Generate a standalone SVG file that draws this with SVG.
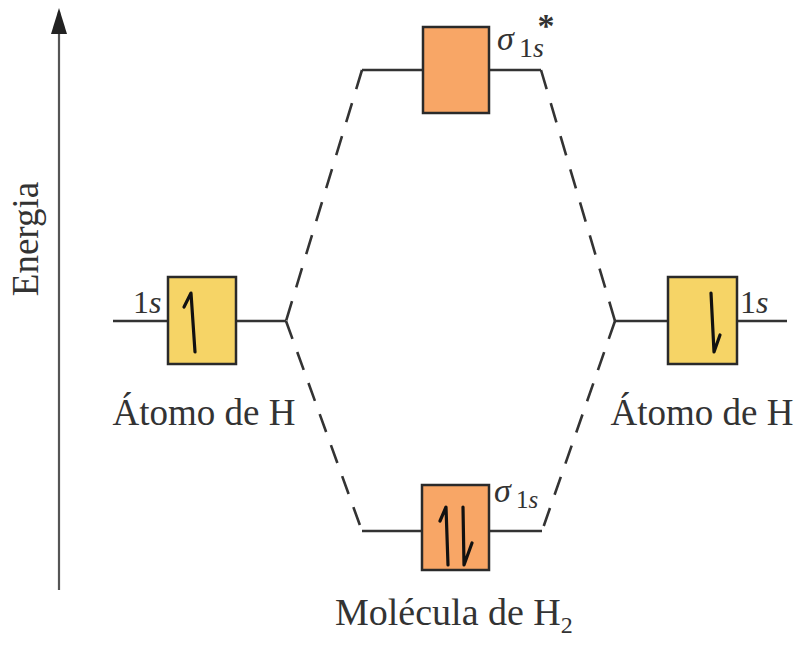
<svg xmlns="http://www.w3.org/2000/svg" width="803" height="646" viewBox="0 0 803 646">
<style>
.t{font-family:"Liberation Serif","Times New Roman",serif;fill:#333}
.ln{stroke:#333;stroke-width:2.6;fill:none}
.ds{stroke:#333;stroke-width:2.6;fill:none;stroke-linecap:butt}
.ao{fill:#F6D466;stroke:#2a2a2a;stroke-width:2.5}
.mo{fill:#F8A666;stroke:#2a2a2a;stroke-width:2.5}
.sp{stroke:#111;stroke-width:3.2;fill:none;stroke-linecap:round;stroke-linejoin:round}
</style>
<g id="axis">
<line x1="59" y1="590" x2="59" y2="12" stroke="#555" stroke-width="2.2"/>
<path d="M59,8 L51,34 L67,34 Z" fill="#222"/>
<text class="t" font-size="37" text-anchor="middle" transform="translate(38,239) rotate(-90)">Energia</text>
</g>
<g id="connectors">
<path class="ds" d="M362,70 L286,321" stroke-dasharray="20 14.5"/>
<path class="ds" d="M286,321 L362,531" stroke-dasharray="19 14"/>
<path class="ds" d="M541,70 L615,321" stroke-dasharray="20 14.5"/>
<path class="ds" d="M615,321 L542,531" stroke-dasharray="19 14"/>
</g>
<g id="atomH-left">
<path class="ln" d="M113,321 H168 M236,321 H286"/>
<rect class="ao" x="168" y="277" width="68" height="87"/>
<path class="sp" d="M195,352 L191,293 L184,307"/>
<text class="t" font-size="32" x="133" y="313">1<tspan font-style="italic">s</tspan></text>
<text class="t" font-size="37" x="204" y="425" text-anchor="middle">Átomo de H</text>
</g>
<g id="atomH-right">
<path class="ln" d="M615,321 H668 M737,321 H787"/>
<rect class="ao" x="668" y="277" width="69" height="87"/>
<path class="sp" d="M711,293 L714,352 L720,335"/>
<text class="t" font-size="32" x="740" y="313">1<tspan font-style="italic">s</tspan></text>
<text class="t" font-size="37" x="702" y="425" text-anchor="middle">Átomo de H</text>
</g>
<g id="sigma-star">
<path class="ln" d="M362,70 H423 M489,70 H541"/>
<rect class="mo" x="423" y="27" width="66" height="86"/>
<text class="t" font-size="34" x="497" y="50" font-style="italic">σ</text>
<text class="t" font-size="28" x="519" y="57">1<tspan font-style="italic">s</tspan></text>
<text class="t" font-size="34" x="546" y="37" font-weight="bold" text-anchor="middle">*</text>
</g>
<g id="sigma">
<path class="ln" d="M362,531 H422 M489,531 H542"/>
<rect class="mo" x="422" y="485" width="67" height="85"/>
<path class="sp" d="M448,565 L446,507 L440,521"/>
<path class="sp" d="M463,507 L464,565 L472,543"/>
<text class="t" font-size="34" x="494" y="502" font-style="italic">σ</text>
<text class="t" font-size="25" x="516" y="508">1<tspan font-style="italic">s</tspan></text>
<text class="t" font-size="38" x="335" y="625">Molécula de H<tspan font-size="24" dy="8">2</tspan></text>
</g>
</svg>
